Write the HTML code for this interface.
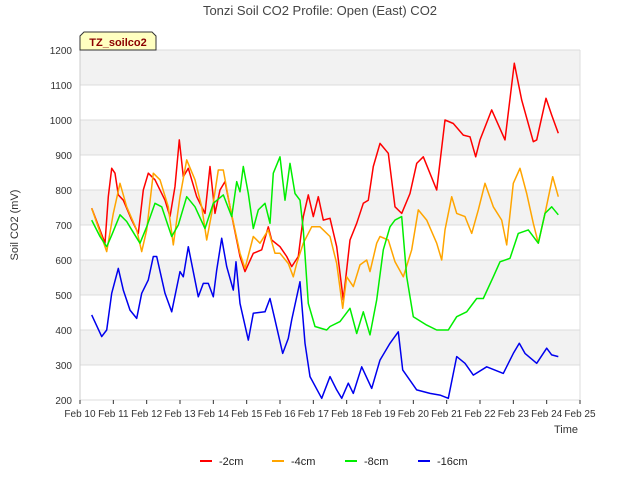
<!DOCTYPE html>
<html><head><meta charset="utf-8"><style>
html,body{margin:0;padding:0;background:#fff;}
svg{display:block;font-family:"Liberation Sans","DejaVu Sans",sans-serif;}
</style></head><body>
<svg id="chart" width="640" height="480" viewBox="0 0 640 480">
<text x="320" y="15" text-anchor="middle" font-size="13" fill="#444">Tonzi Soil CO2 Profile: Open (East) CO2</text>
<g id="bands"></g><g id="grid"></g><g id="yticks"></g><g id="xticks"></g><g id="series"></g>
<text x="566" y="433" text-anchor="middle" font-size="11" fill="#333">Time</text>
<text transform="translate(18,225) rotate(-90)" text-anchor="middle" font-size="11" fill="#333">Soil CO2 (mV)</text>
<g>
<path d="M80,50 L80,36 L84,32 L152,32 L156,36 L156,50 Z" fill="#ffffc0" stroke="#333" stroke-width="1"/>
<text x="118" y="46" text-anchor="middle" font-size="11" font-weight="bold" fill="#8b0000">TZ_soilco2</text>
</g>
<g id="legend"></g>
</svg>
<script>
const yTicks=[200,300,400,500,600,700,800,900,1000,1100,1200];
const xTickLabels=["Feb 10","Feb 11","Feb 12","Feb 13","Feb 14","Feb 15","Feb 16","Feb 17","Feb 18","Feb 19","Feb 20","Feb 21","Feb 22","Feb 23","Feb 24","Feb 25"];
const xTickDays=[10,11,12,13,14,15,16,17,18,19,20,21,22,23,24,25];
const seriesNames=["-2cm","-4cm","-8cm","-16cm"];
const seriesColors=["#ff0000","#ffa500","#00ee00","#0000ee"];
const d2cm=[10.35,10.75,10.85,10.95,11.05,11.15,11.3,11.55,11.75,11.9,12.05,12.25,12.55,12.7,12.85,12.98,13.1,13.25,13.5,13.75,13.9,14.05,14.2,14.35,14.6,14.8,14.95,15.2,15.45,15.65,15.75,16.0,16.2,16.35,16.55,16.7,16.85,17.0,17.15,17.3,17.5,17.7,17.9,18.1,18.3,18.5,18.65,18.8,19.0,19.25,19.45,19.65,19.9,20.1,20.3,20.7,20.95,21.2,21.5,21.7,21.87,22.0,22.35,22.75,23.03,23.25,23.6,23.7,23.98,24.15,24.35];
const v2cm=[748,648,781,862,848,786,771,714,676,800,848,829,771,724,810,943,838,862,781,733,867,733,800,824,705,610,567,619,629,695,657,638,610,581,610,724,786,724,781,714,719,638,486,657,705,762,771,867,933,905,752,733,790,876,895,800,1000,990,957,952,895,943,1029,943,1162,1057,938,943,1062,1014,962];
const d4cm=[10.35,10.8,11.0,11.2,11.4,11.7,11.85,12.0,12.2,12.4,12.65,12.8,13.0,13.2,13.45,13.65,13.8,13.95,14.15,14.3,14.5,14.8,14.95,15.2,15.4,15.65,15.85,16.0,16.25,16.4,16.5,16.7,16.95,17.2,17.5,17.7,17.88,18.0,18.2,18.4,18.6,18.7,18.9,19.0,19.25,19.45,19.7,19.95,20.15,20.4,20.7,20.85,20.95,21.15,21.3,21.55,21.75,21.95,22.15,22.4,22.65,22.8,23.0,23.2,23.4,23.6,23.75,23.95,24.18,24.35];
const v4cm=[748,624,733,819,752,686,624,686,848,829,752,643,781,886,829,752,657,733,857,857,752,619,576,667,648,686,619,619,590,552,590,648,695,695,667,590,462,552,524,586,600,567,648,667,657,595,552,629,743,714,648,600,686,781,733,724,676,743,819,752,714,643,819,862,790,705,648,733,838,781];
const d8cm=[10.35,10.6,10.8,10.95,11.2,11.4,11.65,11.8,12.0,12.25,12.45,12.75,12.95,13.2,13.45,13.75,14.0,14.3,14.55,14.7,14.8,14.9,15.05,15.2,15.35,15.55,15.7,15.8,16.0,16.15,16.3,16.45,16.6,16.7,16.85,17.05,17.4,17.5,17.8,18.1,18.3,18.5,18.7,18.9,19.1,19.3,19.45,19.65,19.8,20.0,20.4,20.7,21.05,21.3,21.6,21.9,22.1,22.4,22.6,22.9,23.15,23.45,23.75,23.95,24.15,24.35];
const v8cm=[714,667,638,671,729,710,671,648,695,762,752,667,700,781,752,690,762,786,724,824,795,867,790,690,743,762,705,848,895,771,876,790,771,686,476,410,400,410,424,462,390,452,386,486,629,695,714,724,552,438,414,400,400,438,452,490,490,552,595,605,676,686,648,733,752,729];
const d16cm=[10.35,10.65,10.8,10.95,11.15,11.3,11.5,11.7,11.85,12.05,12.2,12.3,12.55,12.75,13.0,13.1,13.25,13.55,13.7,13.85,14.0,14.1,14.25,14.4,14.6,14.68,14.8,15.05,15.2,15.55,15.7,15.85,16.08,16.25,16.35,16.6,16.75,16.9,17.25,17.5,17.7,17.85,18.05,18.2,18.45,18.75,19.0,19.3,19.55,19.68,20.1,20.5,20.8,21.05,21.3,21.55,21.8,22.2,22.7,23.0,23.18,23.35,23.7,24.0,24.15,24.35];
const v16cm=[443,381,400,505,576,514,457,433,505,543,610,610,505,452,567,552,638,495,533,533,495,571,662,581,514,595,476,371,448,452,490,429,333,376,429,538,362,267,205,267,229,205,248,219,295,233,314,362,395,286,229,219,214,205,324,305,271,295,276,333,362,333,305,348,329,324];
const seriesDays=[d2cm,d4cm,d8cm,d16cm];
const seriesVals=[v2cm,v4cm,v8cm,v16cm];

const NS="http://www.w3.org/2000/svg";
const X0=80,X1=580,Y0=400,Y1=50;
function xs(d){return X0+(d-10)/15*(X1-X0);}
function ys(v){return Y0-(v-200)/1000*(Y0-Y1);}
function mk(tag,attrs,parent){const e=document.createElementNS(NS,tag);for(const k in attrs)e.setAttribute(k,attrs[k]);parent.appendChild(e);return e;}
const bands=document.getElementById('bands'),grid=document.getElementById('grid');
mk('rect',{x:X0,y:Y1,width:X1-X0,height:Y0-Y1,fill:'#fff'},bands);
for(let i=0;i<yTicks.length-1;i++){
  if(i%2===1){const r=mk('rect',{x:X0,y:ys(yTicks[i+1]),width:X1-X0,height:ys(yTicks[i])-ys(yTicks[i+1]),fill:'#f2f2f2'},bands);
  
  }
}
const yt=document.getElementById('yticks');
yTicks.forEach(v=>{
  const l=mk('line',{x1:X0,x2:X1,y1:ys(v),y2:ys(v),stroke:'#dcdcdc','stroke-width':1},grid);
  
  
  const t=mk('text',{x:X0-8,y:ys(v)+4,'text-anchor':'end','font-size':10,fill:'#333'},yt);
  t.textContent=v;
  
  
});
mk('line',{x1:X0,x2:X0,y1:Y1,y2:Y0,stroke:'#ccc'},grid);
mk('line',{x1:X1,x2:X1,y1:Y1,y2:Y0,stroke:'#ddd'},grid);
const xt=document.getElementById('xticks');
xTickDays.forEach((d,i)=>{
  mk('line',{x1:xs(d),x2:xs(d),y1:Y0,y2:Y0+4,stroke:'#333'},xt);
  const t=mk('text',{x:xs(d),y:Y0+17,'text-anchor':'middle','font-size':10,fill:'#333'},xt);
  t.textContent=xTickLabels[i];
  
  
});
const sg=document.getElementById('series');
seriesNames.forEach((n,i)=>{
  const pts=seriesDays[i].map((d,j)=>xs(d).toFixed(1)+','+ys(seriesVals[i][j]).toFixed(1)).join(' ');
  const p=mk('polyline',{points:pts,fill:'none',stroke:seriesColors[i],'stroke-width':1.5,'stroke-linejoin':'round'},sg);
  
  
});
const lg=document.getElementById('legend');
const lx=[200,272,345,418];
seriesNames.forEach((n,i)=>{
  const g=mk('g',{},lg);
  
  
  mk('line',{x1:lx[i],x2:lx[i]+12,y1:461,y2:461,stroke:seriesColors[i],'stroke-width':2},g);
  const t=mk('text',{x:lx[i]+19,y:465,'font-size':11,fill:'#222'},g);
  t.textContent=n;
});
</script>
</body></html>
